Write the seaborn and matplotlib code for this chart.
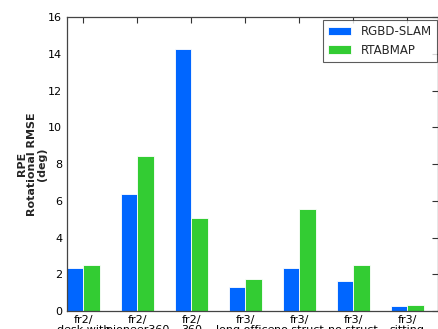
import matplotlib
matplotlib.use("Agg")
import matplotlib.pyplot as plt
import seaborn as sns
import pandas as pd

categories = ["fr2/\ndesk with\nperson", "fr2/\npioneer360", "fr2/\n360\nkidnap",
              "fr3/\nlong office\nhousehold", "fr3/\nno struct\ntexture far",
              "fr3/\nno struct\ntexture near", "fr3/\nsitting\nhalfsphere"]
rgbd_slam = [2.35, 6.35, 14.25, 1.30, 2.35, 1.65, 0.25]
rtabmap = [2.48, 8.45, 5.05, 1.75, 5.55, 2.50, 0.30]
series = ["RGBD-SLAM", "RTABMAP"]
colors = ["#0066ff", "#33cc33"]

df = pd.DataFrame({
    "cat": categories * 2,
    "val": rgbd_slam + rtabmap,
    "method": [series[0]] * len(categories) + [series[1]] * len(categories),
})

sns.set_style("white")
plt.rcParams['font.family'] = ['DejaVu Sans']

fig = plt.figure(figsize=(4.39, 3.29), dpi=100)
ax = fig.add_axes([0.153, 0.0547, 0.845, 0.8936])
sns.barplot(data=df, x="cat", y="val", hue="method", palette=colors,
            width=0.6, ax=ax, edgecolor="#ffffff", linewidth=0.6,
            saturation=1, errorbar=None)

ax.set_xlim(-0.3, 6.57)
ax.set_ylim(0, 16)
ax.set_yticks(range(0, 17, 2))
ax.set_xlabel("")
ax.set_ylabel("RPE\nRotational RMSE\n(deg)", fontsize=8, fontweight="bold",
              linespacing=1.0, labelpad=0.5)
ax.tick_params(axis="both", direction="in", labelsize=8, length=4, width=0.8,
               top=True, right=True, colors="#333333", labelcolor="black")
ax.tick_params(axis="x", pad=3)
for s in ax.spines.values():
    s.set_visible(True)
    s.set_color("#444444")
    s.set_linewidth(0.9)
for lbl in ax.get_xticklabels():
    lbl.set_linespacing(1.0)

leg = ax.legend(loc="upper right", fontsize=8.5, fancybox=False, frameon=True,
                borderpad=0.45, handlelength=1.95, handleheight=0.7,
                handletextpad=0.85, labelspacing=0.45, borderaxespad=0,
                bbox_to_anchor=(0.998, 0.99))
leg.get_frame().set_edgecolor("#333333")
leg.get_frame().set_linewidth(0.8)

fig.savefig("out.png", dpi=100)
